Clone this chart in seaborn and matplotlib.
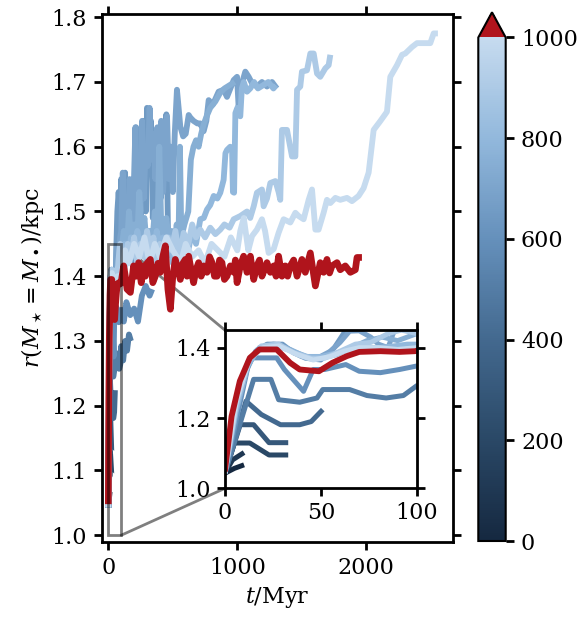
import numpy as np
import pandas as pd
import matplotlib
matplotlib.use("Agg")
import matplotlib.pyplot as plt
import seaborn as sns
from matplotlib.colors import Normalize
from matplotlib.cm import ScalarMappable
from matplotlib.patches import ConnectionPatch

# ---------------- data (t [Myr], r [kpc]) ----------------
mass_values = [0, 100, 200, 300, 400, 500, 600, 650, 700, 750, 800, 900, 1000]

line_0 = [(0, 1.043), (5, 1.057), (10, 1.067)]
line_100 = [(0, 1.043), (4, 1.081), (10, 1.102)]
line_200 = [(0, 1.043), (5, 1.129), (13, 1.129), (23, 1.095), (33, 1.095)]
line_300 = [(0, 1.043), (8, 1.181), (15, 1.181), (23, 1.130), (33, 1.130)]
line_400 = [(0, 1.043), (11, 1.248), (19, 1.210), (29, 1.181), (39, 1.181), (45, 1.190), (51, 1.224)]
line_500 = [(0, 1.043), (15, 1.310), (24, 1.310), (28, 1.252), (39, 1.245), (48, 1.257), (51, 1.281),
            (65, 1.281), (74, 1.264), (84, 1.257), (93, 1.264), (100, 1.292), (115, 1.27), (130, 1.30),
            (145, 1.285), (160, 1.31), (175, 1.30)]
line_600 = [(0, 1.043), (13, 1.371), (27, 1.371), (31, 1.338), (41, 1.276), (46, 1.338), (52, 1.338),
            (63, 1.352), (70, 1.333), (81, 1.329), (91, 1.338), (100, 1.348), (120, 1.33), (140, 1.36),
            (170, 1.34), (200, 1.35), (230, 1.33), (260, 1.37), (290, 1.385), (320, 1.37), (340, 1.38)]
line_650 = [(0, 1.043), (5, 1.20), (10, 1.32), (16, 1.39), (22, 1.41), (30, 1.41), (36, 1.385), (42, 1.37),
            (50, 1.365), (57, 1.40), (63, 1.45), (70, 1.50), (80, 1.53), (90, 1.49), (100, 1.55), (110, 1.44),
            (120, 1.53), (130, 1.56), (140, 1.45), (150, 1.50), (160, 1.47), (175, 1.42), (190, 1.48),
            (205, 1.44), (215, 1.63), (225, 1.62), (235, 1.50), (248, 1.45), (260, 1.55), (275, 1.64),
            (290, 1.50), (300, 1.66), (315, 1.56), (330, 1.64), (345, 1.49), (360, 1.58), (375, 1.45),
            (390, 1.60), (405, 1.52), (420, 1.63), (435, 1.55), (450, 1.65), (465, 1.43)]
line_700 = [(0, 1.043), (5, 1.21), (10, 1.33), (17, 1.395), (25, 1.41), (32, 1.40), (40, 1.375), (48, 1.37),
            (55, 1.39), (60, 1.415), (65, 1.447), (70, 1.448), (76, 1.43), (80, 1.41), (85, 1.40), (88, 1.445),
            (92, 1.46), (100, 1.47), (112, 1.56), (125, 1.46), (138, 1.52), (150, 1.45), (165, 1.55),
            (180, 1.48), (195, 1.52), (210, 1.63), (222, 1.46), (235, 1.55), (250, 1.50), (262, 1.64),
            (275, 1.52), (290, 1.60), (305, 1.57), (320, 1.66), (335, 1.58), (350, 1.62), (365, 1.55),
            (380, 1.63), (395, 1.57), (410, 1.64), (425, 1.53), (440, 1.60), (455, 1.647), (470, 1.55),
            (485, 1.60), (500, 1.53), (515, 1.62), (532, 1.688), (545, 1.66), (558, 1.631), (580, 1.616),
            (600, 1.62), (623, 1.649), (636, 1.645), (660, 1.64), (690, 1.636), (713, 1.636), (739, 1.624),
            (760, 1.64), (778, 1.672), (810, 1.665), (855, 1.685), (894, 1.688), (920, 1.677), (946, 1.69),
            (972, 1.703), (998, 1.708), (1010, 1.662), (1036, 1.698), (1062, 1.716), (1088, 1.708),
            (1114, 1.698), (1152, 1.693), (1191, 1.70), (1230, 1.693), (1269, 1.70), (1295, 1.693), (1307, 1.69)]
line_750 = [(0, 1.043), (6, 1.22), (12, 1.35), (18, 1.40), (26, 1.41), (34, 1.395), (42, 1.375), (50, 1.37),
            (58, 1.38), (66, 1.40), (74, 1.42), (82, 1.43), (90, 1.42), (100, 1.44), (120, 1.47), (140, 1.43),
            (160, 1.50), (180, 1.45), (200, 1.48), (220, 1.44), (240, 1.53), (260, 1.46), (280, 1.49),
            (300, 1.44), (320, 1.47), (340, 1.45), (360, 1.50), (380, 1.46), (395, 1.60), (410, 1.48),
            (430, 1.46), (450, 1.49), (470, 1.45), (490, 1.47), (510, 1.44), (530, 1.48), (543, 1.44),
            (555, 1.60), (566, 1.46), (590, 1.48), (620, 1.50), (640, 1.58), (660, 1.60), (680, 1.61),
            (700, 1.60), (720, 1.62), (740, 1.635), (762, 1.647), (790, 1.66), (830, 1.67), (866, 1.683),
            (900, 1.69), (940, 1.695), (980, 1.70)]
line_800 = [(0, 1.043), (6, 1.23), (12, 1.35), (18, 1.40), (27, 1.405), (35, 1.39), (43, 1.375), (50, 1.375),
            (58, 1.385), (65, 1.395), (72, 1.40), (80, 1.40), (88, 1.405), (95, 1.41), (100, 1.41),
            (125, 1.45), (150, 1.42), (175, 1.46), (200, 1.43), (225, 1.47), (250, 1.44), (275, 1.46),
            (300, 1.42), (325, 1.45), (350, 1.43), (375, 1.47), (400, 1.44), (425, 1.46), (450, 1.43),
            (475, 1.46), (500, 1.42), (530, 1.45), (560, 1.43), (590, 1.46), (620, 1.44), (650, 1.47),
            (680, 1.45), (713, 1.488), (740, 1.49), (765, 1.503), (790, 1.51), (817, 1.524), (845, 1.52),
            (868, 1.529), (894, 1.549), (908, 1.59), (920, 1.595), (945, 1.60), (959, 1.598), (966, 1.53),
            (975, 1.529), (985, 1.652), (1000, 1.66), (1023, 1.647), (1035, 1.69), (1050, 1.70),
            (1075, 1.685), (1100, 1.69), (1130, 1.70), (1160, 1.69), (1200, 1.695), (1240, 1.70),
            (1280, 1.69), (1300, 1.695)]
line_900 = [(0, 1.043), (6, 1.24), (12, 1.36), (19, 1.405), (28, 1.41), (36, 1.385), (45, 1.37), (52, 1.37),
            (60, 1.39), (68, 1.41), (76, 1.415), (85, 1.44), (92, 1.45), (100, 1.44), (125, 1.41),
            (150, 1.45), (175, 1.43), (200, 1.46), (225, 1.42), (250, 1.45), (275, 1.43), (300, 1.47),
            (325, 1.44), (350, 1.46), (375, 1.42), (400, 1.45), (430, 1.43), (460, 1.46), (490, 1.44),
            (520, 1.47), (550, 1.43), (584, 1.467), (620, 1.45), (650, 1.48), (680, 1.46), (713, 1.472),
            (750, 1.46), (790, 1.475), (830, 1.465), (868, 1.472), (900, 1.48), (940, 1.475), (972, 1.488),
            (1023, 1.493), (1075, 1.50), (1100, 1.49), (1127, 1.508), (1152, 1.529), (1191, 1.534),
            (1204, 1.508), (1230, 1.52), (1256, 1.544), (1295, 1.547), (1320, 1.53), (1333, 1.518),
            (1346, 1.626), (1385, 1.626), (1424, 1.585), (1450, 1.585), (1463, 1.688), (1488, 1.693),
            (1501, 1.716), (1540, 1.718), (1566, 1.744), (1592, 1.744), (1618, 1.713), (1643, 1.708),
            (1682, 1.721), (1708, 1.726), (1721, 1.742)]
line_1000 = [(0, 1.043), (6, 1.25), (13, 1.37), (20, 1.40), (28, 1.405), (38, 1.38), (46, 1.365), (55, 1.375),
             (62, 1.39), (70, 1.40), (80, 1.40), (90, 1.395), (100, 1.40), (130, 1.44), (160, 1.42),
             (200, 1.45), (240, 1.43), (280, 1.46), (320, 1.42), (360, 1.45), (400, 1.43), (450, 1.46),
             (500, 1.44), (560, 1.42), (600, 1.45), (650, 1.43), (700, 1.44), (750, 1.42), (800, 1.45),
             (850, 1.44), (900, 1.43), (950, 1.46), (1000, 1.44), (1023, 1.47), (1050, 1.49), (1085, 1.44),
             (1114, 1.462), (1152, 1.472), (1191, 1.488), (1215, 1.47), (1243, 1.436), (1282, 1.442),
             (1320, 1.467), (1359, 1.488), (1411, 1.483), (1450, 1.498), (1475, 1.493), (1514, 1.488),
             (1553, 1.518), (1579, 1.534), (1605, 1.472), (1630, 1.472), (1669, 1.498), (1695, 1.518),
             (1721, 1.513), (1760, 1.521), (1798, 1.518), (1850, 1.521), (1889, 1.516), (1940, 1.524),
             (1979, 1.536), (2018, 1.56), (2057, 1.626), (2110, 1.64), (2160, 1.654), (2186, 1.708),
             (2238, 1.726), (2277, 1.742), (2302, 1.744), (2354, 1.754), (2393, 1.760), (2496, 1.760),
             (2522, 1.775), (2555, 1.775)]
line_red = [(0, 1.048), (3.5, 1.205), (7.8, 1.305), (13, 1.371), (18, 1.395), (27, 1.395), (34, 1.357),
            (39, 1.338), (49, 1.333), (56, 1.357), (63.5, 1.376), (70, 1.388), (81, 1.39), (91, 1.388),
            (99, 1.39), (119, 1.416), (132, 1.40), (145, 1.38), (171, 1.375), (196, 1.416), (215, 1.40),
            (235, 1.421), (255, 1.39), (274, 1.416), (287, 1.40), (300, 1.42), (326, 1.426), (345, 1.39),
            (364, 1.40), (385, 1.42), (403, 1.406), (422, 1.43), (442, 1.447), (462, 1.38), (481, 1.349),
            (500, 1.40), (519, 1.426), (540, 1.41), (558, 1.395), (578, 1.42), (597, 1.426), (610, 1.40),
            (623, 1.431), (642, 1.41), (661, 1.39), (680, 1.41), (700, 1.421), (720, 1.40), (739, 1.416),
            (765, 1.406), (785, 1.43), (804, 1.421), (823, 1.40), (843, 1.40), (862, 1.425), (881, 1.421),
            (900, 1.395), (920, 1.40), (946, 1.416), (972, 1.406), (985, 1.425), (998, 1.39), (1023, 1.416),
            (1049, 1.431), (1075, 1.406), (1101, 1.431), (1127, 1.395), (1152, 1.416), (1172, 1.425),
            (1191, 1.40), (1210, 1.41), (1230, 1.421), (1256, 1.406), (1282, 1.416), (1300, 1.40),
            (1320, 1.431), (1346, 1.40), (1372, 1.416), (1390, 1.40), (1411, 1.416), (1437, 1.425),
            (1463, 1.40), (1501, 1.426), (1527, 1.406), (1566, 1.436), (1605, 1.385), (1643, 1.421),
            (1669, 1.406), (1695, 1.426), (1715, 1.405), (1734, 1.416), (1773, 1.421), (1798, 1.41),
            (1837, 1.416), (1876, 1.406), (1915, 1.41), (1928, 1.429), (1966, 1.429)]

blue_lines = [line_0, line_100, line_200, line_300, line_400, line_500, line_600, line_650,
              line_700, line_750, line_800, line_900, line_1000]

cbar_ticks = [0, 200, 400, 600, 800, 1000]
main_yticks = [1.0, 1.1, 1.2, 1.3, 1.4, 1.5, 1.6, 1.7, 1.8]
main_xticks = [0, 1000, 2000]
inset_xticks = [0, 50, 100]
inset_yticks = [1.0, 1.2, 1.4]

# ---------------- style ----------------
sns.set_theme(style="ticks")
plt.rcParams["font.family"] = ["DejaVu Serif"]
plt.rcParams["mathtext.fontset"] = "dejavuserif"
plt.rcParams["font.size"] = 16
plt.rcParams["axes.linewidth"] = 2.0
plt.rcParams["axes.edgecolor"] = "black"
plt.rcParams["xtick.color"] = "black"
plt.rcParams["ytick.color"] = "black"
plt.rcParams["text.color"] = "black"
plt.rcParams["axes.labelcolor"] = "black"
plt.rcParams["lines.solid_capstyle"] = "butt"

RED = "#b0141c"
cmap = sns.blend_palette(["#152840", "#2a4866", "#43698f", "#6590bb", "#92b8dc", "#c6dbef"], as_cmap=True)
cmap.set_over(RED)
norm = Normalize(0, 1000)

frames = []
for run, (m, pts) in enumerate(zip(mass_values, blue_lines)):
    arr = np.array(pts)
    frames.append(pd.DataFrame({"t": arr[:, 0], "r": arr[:, 1], "mass": m, "run": run}))
df_blue = pd.concat(frames, ignore_index=True)
arr_red = np.array(line_red)
df_red = pd.DataFrame({"t": arr_red[:, 0], "r": arr_red[:, 1]})

fig = plt.figure(figsize=(5.88, 6.23), dpi=100)
ax = fig.add_axes([102 / 588, (623 - 541.7) / 623, 351 / 588, 527.7 / 623])


def draw(a, lw_blue, lw_red):
    sns.lineplot(data=df_blue, x="t", y="r", hue="mass", units="run", estimator=None, sort=False,
                 palette=cmap, hue_norm=norm, linewidth=lw_blue, legend=False, ax=a)
    sns.lineplot(data=df_red, x="t", y="r", estimator=None, sort=False, color=RED, linewidth=lw_red,
                 legend=False, ax=a)


draw(ax, 4.2, 4.8)
ax.set_xlim(-49, 2672)
ax.set_ylim(0.99, 1.805)
ax.set_xticks(main_xticks)
ax.set_yticks(main_yticks)
ax.set_yticklabels([f"{v:.1f}" for v in main_yticks])
ax.tick_params(which="both", direction="out", top=True, right=True, length=6, width=2, labelsize=16, pad=5)
ax.set_xlabel(r"$t/\mathrm{Myr}$", fontsize=16)
ax.set_ylabel(r"$r(M_\star=M_\bullet)/\mathrm{kpc}$", fontsize=16)

# inset
ix0, ix1, iy0, iy1 = 0, 100, 1.0, 1.45
axins = ax.inset_axes([0.350, 0.101, 0.547, 0.300])
draw(axins, 3.6, 4.2)
axins.set_xlim(ix0, ix1)
axins.set_ylim(iy0, iy1)
axins.set_xticks(inset_xticks)
axins.set_yticks(inset_yticks)
axins.set_yticklabels([f"{v:.1f}" for v in inset_yticks])
axins.set_xlabel("")
axins.set_ylabel("")
axins.tick_params(direction="out", top=True, right=True, length=6, width=2, labelsize=16, pad=4)
axins.set_facecolor("white")

ax.indicate_inset((ix0, iy0, ix1 - ix0, iy1 - iy0), edgecolor="black", alpha=0.5, lw=2)
for ya, yb in [(iy1, 1), (iy0, 0)]:
    con = ConnectionPatch(xyA=(ix1, ya), coordsA=ax.transData, xyB=(0, yb), coordsB=axins.transAxes,
                          color="black", alpha=0.5, lw=2)
    ax.add_artist(con)

# colorbar
cax = fig.add_axes([478.3 / 588, (623 - 541) / 623, 27.4 / 588, (541 - 12.3) / 623])
sm = ScalarMappable(norm=norm, cmap=cmap)
cb = fig.colorbar(sm, cax=cax, extend="max", ticks=cbar_ticks)
cb.outline.set_linewidth(1.5)
cax.tick_params(direction="out", length=6, width=2, labelsize=16, pad=5)

fig.savefig("out.png", dpi=100)
